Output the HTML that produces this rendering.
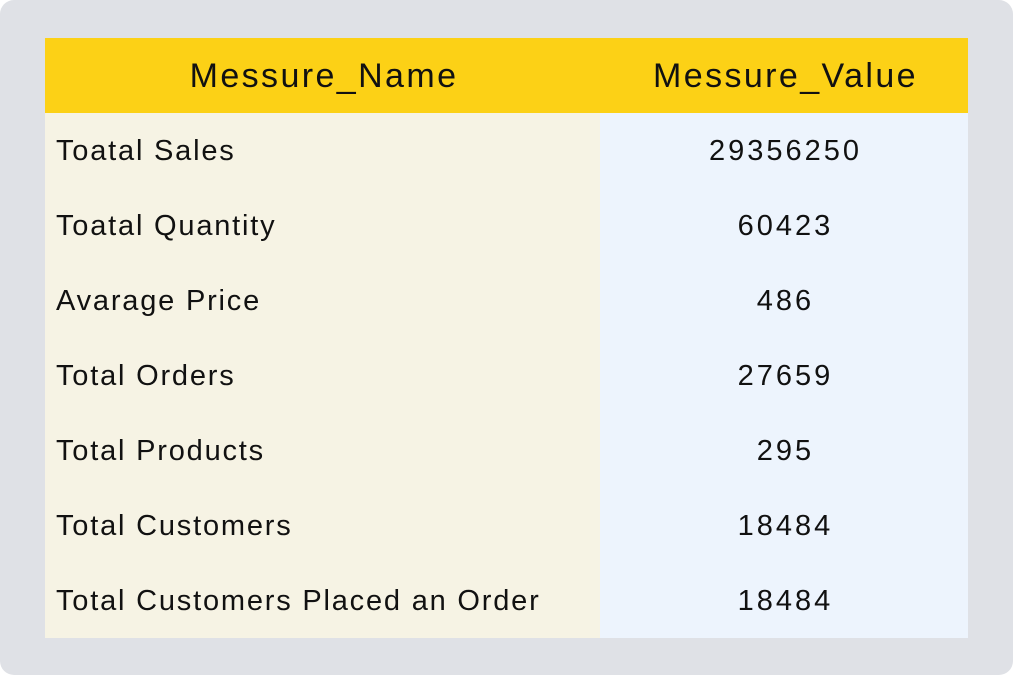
<!DOCTYPE html>
<html><head><meta charset="utf-8"><style>
html,body{margin:0;padding:0;background:#fff;}
#frame{position:absolute;left:0;top:0;width:1013px;height:675px;background:#dfe1e6;border-radius:14px;}
table{position:absolute;left:45px;top:38px;width:923px;table-layout:fixed;border-collapse:collapse;font-family:"Liberation Sans",sans-serif;color:#111;}
th{background:#fcd116;height:75px;font-weight:normal;font-size:34px;letter-spacing:2.4px;padding:2px 0 0 3px;text-align:center;box-sizing:border-box;}
td{height:75px;font-size:29px;padding:2px 0 0 0;box-sizing:border-box;}
td.n{background:#f6f3e4;padding-left:11px;letter-spacing:1.8px;}
td.v{background:#edf4fd;text-align:center;letter-spacing:3px;padding-left:3px;}
</style></head><body>
<div id="frame">
<table>
<colgroup><col style="width:555px"><col style="width:368px"></colgroup>
<tr><th>Messure_Name</th><th>Messure_Value</th></tr>
<tr><td class="n">Toatal Sales</td><td class="v">29356250</td></tr>
<tr><td class="n">Toatal Quantity</td><td class="v">60423</td></tr>
<tr><td class="n">Avarage Price</td><td class="v">486</td></tr>
<tr><td class="n">Total Orders</td><td class="v">27659</td></tr>
<tr><td class="n">Total Products</td><td class="v">295</td></tr>
<tr><td class="n">Total Customers</td><td class="v">18484</td></tr>
<tr><td class="n">Total Customers Placed an Order</td><td class="v">18484</td></tr>
</table>
</div>
</body></html>
